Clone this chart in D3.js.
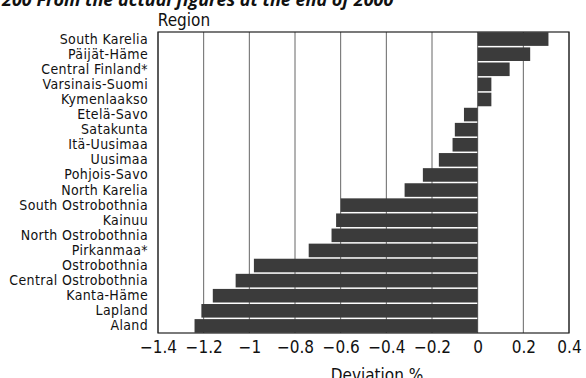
<!DOCTYPE html>
<html>
<head>
<meta charset="utf-8">
<script src="https://cdn.jsdelivr.net/npm/d3@7"></script>
<style>
  body { margin: 0; background: #fff; }
  svg { display: block; }
  text { font-family: "DejaVu Sans Condensed", "DejaVu Sans", sans-serif; fill: #111; }
</style>
</head>
<body>
<div id="chart"></div>
<script>
// Regions top to bottom
const regions = [
  "South Karelia", "Päijät-Häme", "Central Finland*", "Varsinais-Suomi", "Kymenlaakso",
  "Etelä-Savo", "Satakunta", "Itä-Uusimaa", "Uusimaa", "Pohjois-Savo", "North Karelia",
  "South Ostrobothnia", "Kainuu", "North Ostrobothnia", "Pirkanmaa*", "Ostrobothnia",
  "Central Ostrobothnia", "Kanta-Häme", "Lapland", "Aland"
];
// Deviation %
const deviation = [
  0.31, 0.23, 0.14, 0.06, 0.06,
  -0.06, -0.10, -0.11, -0.17, -0.24, -0.32,
  -0.60, -0.62, -0.64, -0.74, -0.98,
  -1.06, -1.16, -1.21, -1.24
];
const xTicks = [-1.4, -1.2, -1, -0.8, -0.6, -0.4, -0.2, 0, 0.2, 0.4];

const titleText = "200 From the actual figures at the end of 2000";
const yTitle = "Region";
const xTitle = "Deviation %";

const data = regions.map((r, i) => ({ region: r, value: deviation[i] }));

const width = 586, height = 378;
const margin = { top: 32, right: 17, bottom: 45, left: 158 };

const x = d3.scaleLinear()
  .domain([-1.4, 0.4])
  .range([margin.left, width - margin.right]);

const y = d3.scaleBand()
  .domain(regions)
  .range([margin.top, height - margin.bottom])
  .paddingInner(0.1)
  .paddingOuter(0.02);

const svg = d3.select("#chart").append("svg")
  .attr("width", width)
  .attr("height", height);

// title, cropped at the top edge as in the source
svg.append("text")
  .attr("x", 2)
  .attr("y", 6)
  .style("font-family", "'Open Sans', sans-serif")
  .style("font-weight", "bold")
  .style("font-style", "italic")
  .style("font-size", "18px")
  .text(titleText);

// gridlines
svg.append("g")
  .selectAll("line")
  .data(xTicks)
  .enter()
  .append("line")
  .attr("x1", d => x(d))
  .attr("x2", d => x(d))
  .attr("y1", margin.top)
  .attr("y2", height - margin.bottom)
  .attr("stroke", "#666")
  .attr("stroke-width", 1);

// bars
svg.append("g")
  .selectAll("rect")
  .data(data)
  .enter()
  .append("rect")
  .attr("x", d => x(Math.min(0, d.value)))
  .attr("width", d => Math.abs(x(d.value) - x(0)))
  .attr("y", d => y(d.region))
  .attr("height", y.bandwidth())
  .attr("fill", "#3b3b3b");

// frame
svg.append("rect")
  .attr("x", margin.left)
  .attr("y", margin.top)
  .attr("width", width - margin.right - margin.left)
  .attr("height", height - margin.bottom - margin.top)
  .attr("fill", "none")
  .attr("stroke", "#222")
  .attr("stroke-width", 1.2);

// x axis
const xAxis = svg.append("g")
  .attr("transform", `translate(0,${height - margin.bottom})`)
  .call(d3.axisBottom(x).tickValues(xTicks).tickSize(0).tickPadding(8)
    .tickFormat(d => d3.format("")(d).replace("-", "−")));
xAxis.select(".domain").remove();
xAxis.selectAll("text")
  .style("font-family", "\"DejaVu Sans Condensed\", sans-serif")
  .style("font-size", "17px")
  .attr("fill", "#111");

// y axis
const yAxis = svg.append("g")
  .attr("transform", `translate(${margin.left},0)`)
  .call(d3.axisLeft(y).tickSize(0).tickPadding(10));
yAxis.select(".domain").remove();
yAxis.selectAll("text")
  .style("font-family", "\"DejaVu Sans Condensed\", sans-serif")
  .style("font-size", "14px")
  .style("letter-spacing", "0.35px")
  .attr("fill", "#111");

// axis titles
svg.append("text")
  .attr("x", 184)
  .attr("y", 26)
  .attr("text-anchor", "middle")
  .style("font-size", "17px")
  .text(yTitle);

svg.append("text")
  .attr("x", 377)
  .attr("y", 381)
  .attr("text-anchor", "middle")
  .style("font-size", "17px")
  .text(xTitle);
</script>
</body>
</html>
